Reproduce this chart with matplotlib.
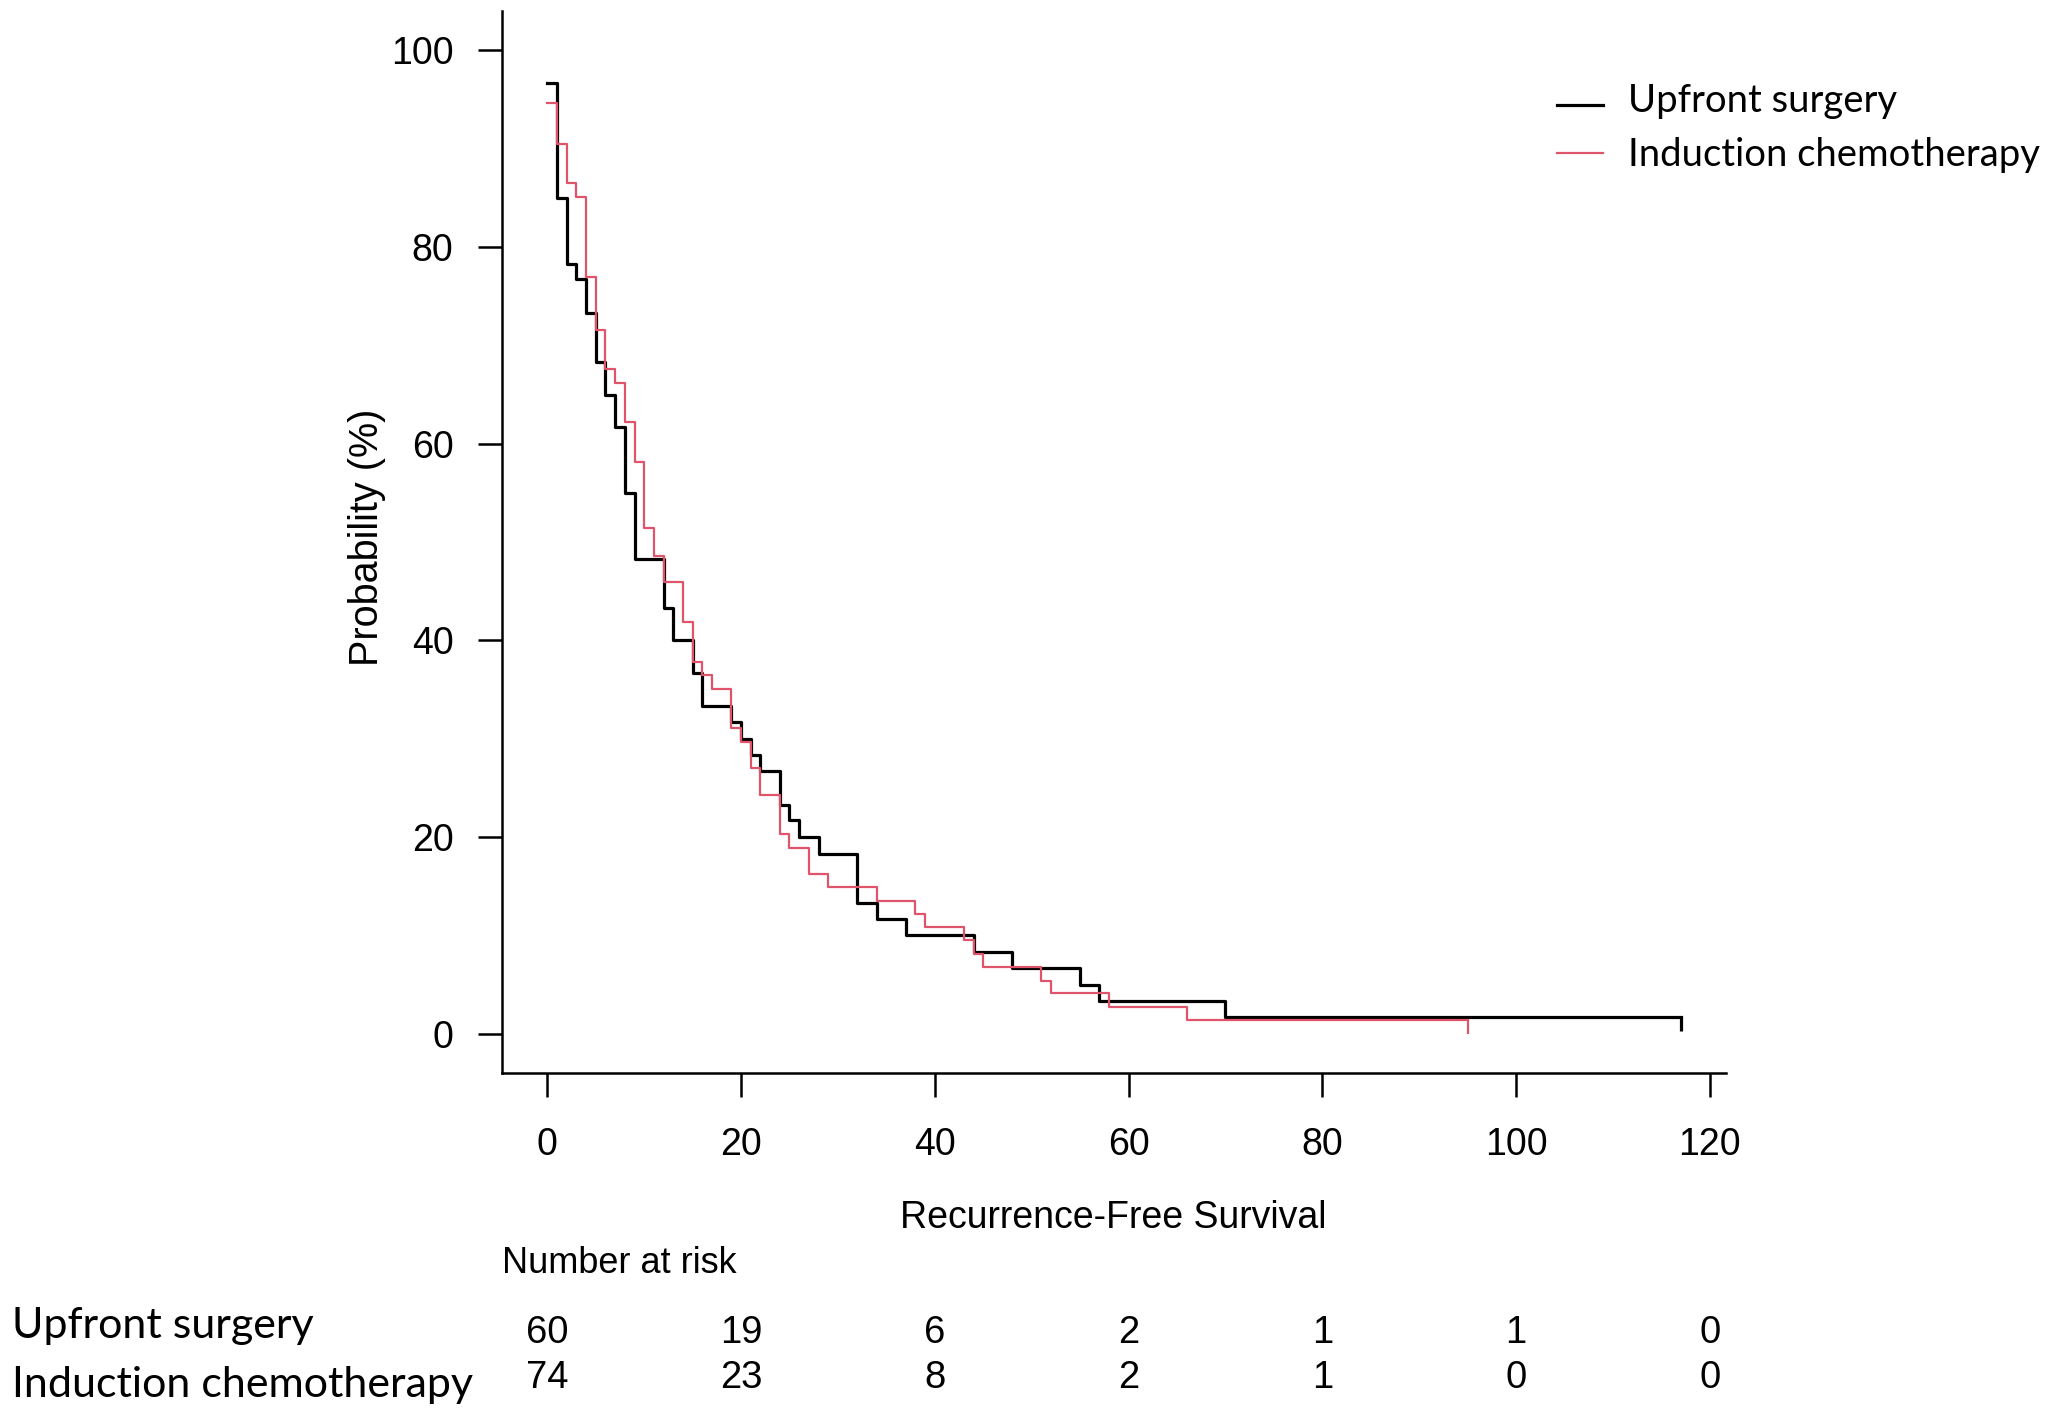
import matplotlib.pyplot as plt
from matplotlib.lines import Line2D

# Kaplan-Meier steps (time in months, survival in %)
us_time = [0, 1, 2, 3, 4, 5, 6, 7, 8, 9, 12, 13, 15, 16, 19, 20, 21, 22, 24, 25,
           26, 28, 32, 34, 37, 44, 48, 55, 57, 70, 117]
us_surv = [96.7, 85.0, 78.3, 76.7, 73.3, 68.3, 65.0, 61.7, 55.0, 48.3, 43.3, 40.0,
           36.7, 33.3, 31.7, 30.0, 28.3, 26.7, 23.3, 21.7, 20.0, 18.3, 13.3, 11.7,
           10.0, 8.3, 6.7, 5.0, 3.3, 1.7, 1.7]

ic_time = [0, 1, 2, 3, 4, 5, 6, 7, 8, 9, 10, 11, 12, 14, 15, 16, 17, 19, 20, 21,
           22, 24, 25, 27, 29, 34, 38, 39, 43, 44, 45, 51, 52, 58, 66, 95]
ic_surv = [94.6, 90.5, 86.5, 85.1, 77.0, 71.6, 67.6, 66.2, 62.2, 58.1, 51.4, 48.6,
           45.9, 41.9, 37.8, 36.5, 35.1, 31.1, 29.7, 27.0, 24.3, 20.3, 18.9, 16.2,
           14.9, 13.5, 12.2, 10.8, 9.5, 8.1, 6.8, 5.4, 4.1, 2.7, 1.4, 1.4]

groups = ['Upfront surgery', 'Induction chemotherapy']
risk_times = [0, 20, 40, 60, 80, 100, 120]
us_risk = [60, 19, 6, 2, 1, 1, 0]
ic_risk = [74, 23, 8, 2, 1, 0, 0]
y_ticks = [0, 20, 40, 60, 80, 100]

BLACK = '#000000'
RED = '#DF536B'
W, H = 2047, 1424
CAL = ['Lato', 'DejaVu Sans']  # stand-in for the Calibri-like labels

plt.rcParams['font.family'] = ['Liberation Sans', 'DejaVu Sans']

fig = plt.figure(figsize=(W / 100, H / 100), dpi=100, facecolor='white')
# plot region in pixels: x 502..1726, y 11..1073
ax = fig.add_axes([502 / W, 1 - 1073 / H, (1726 - 502) / W, (1073 - 11) / H])

ax.step(us_time, us_surv, where='post', color=BLACK, lw=2.3)
ax.step(ic_time, ic_surv, where='post', color=RED, lw=1.6)
# censor marks at the end of each curve
ax.plot(us_time[-1], us_surv[-1], marker=3, ms=10, mew=2.3, color=BLACK)
ax.plot(ic_time[-1], ic_surv[-1], marker=3, ms=10, mew=1.6, color=RED)

ax.set_xlim(-4.68, 121.68)
ax.set_ylim(-4, 104)
ax.set_xticks(risk_times)
ax.set_yticks(y_ticks)
ax.spines['top'].set_visible(False)
ax.spines['right'].set_visible(False)
for s in ('left', 'bottom'):
    ax.spines[s].set_linewidth(1.8)
ax.tick_params(direction='out', length=17, width=1.8, labelsize=27)
ax.tick_params(axis='y', pad=18)
ax.tick_params(axis='x', pad=22)


def px(x, y):
    return x / W, 1 - y / H


fig.text(*px(367, 537), 'Probability (%)', rotation=90, ha='center', va='center', fontsize=28.5)
fig.text(*px(1113, 1228), 'Recurrence-Free Survival', ha='center', va='baseline', fontsize=27)
fig.text(*px(502, 1273), 'Number at risk', ha='left', va='baseline', fontsize=26)

# risk table
for counts, base in zip([us_risk, ic_risk], [1343, 1388]):
    for t, n in zip(risk_times, counts):
        xf = ax.transData.transform((t, 0))[0] / W
        fig.text(xf, 1 - base / H, str(n), ha='center', va='baseline', fontsize=27.5)
fig.text(*px(12, 1338), groups[0], ha='left', va='baseline', fontsize=31, family=CAL)
fig.text(*px(12, 1397), groups[1], ha='left', va='baseline', fontsize=31, family=CAL)

# legend drawn by hand
for lab, col, ly, base, lw in [(groups[0], BLACK, 105, 112, 2.3), (groups[1], RED, 153, 166, 1.6)]:
    fig.add_artist(Line2D([1557 / W, 1603 / W], [1 - ly / H, 1 - ly / H], color=col, lw=lw))
    fig.text(*px(1628, base), lab, ha='left', va='baseline', fontsize=27.5, family=CAL)

fig.savefig('out.png', dpi=100, facecolor='white')
